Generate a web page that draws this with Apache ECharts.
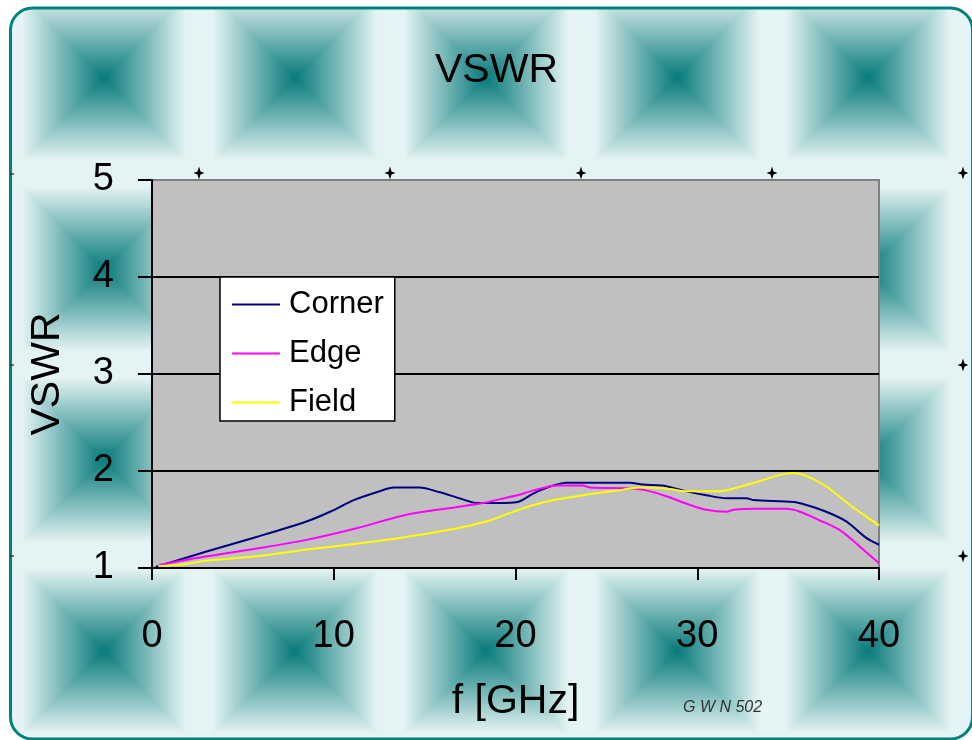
<!DOCTYPE html>
<html>
<head>
<meta charset="utf-8">
<script src="https://cdn.jsdelivr.net/npm/echarts@6/dist/echarts.min.js"></script>
<style>html,body{margin:0;padding:0;background:#fff}#c{width:972px;height:740px}</style>
</head>
<body>
<div id="c"></div>
<script>
// ---- data ----
var xTicks = [0, 10, 20, 30, 40];
var yTicks = [1, 2, 3, 4, 5];
var seriesNames = ['Corner', 'Edge', 'Field'];

var cornerF = [0.2, 3.0, 5.75, 8.5, 9.8, 11.1, 12.5, 13.3, 14.7, 15.85, 16.9, 17.9, 19.1, 20.1, 21.0, 21.9, 22.8, 26.3, 27.0, 28.1, 29.4, 30.5, 31.6, 32.7, 33.1, 35.3, 36.0, 37.1, 38.2, 39.3, 40.0];
var cornerV = [1.01, 1.17, 1.32, 1.48, 1.58, 1.70, 1.79, 1.83, 1.83, 1.78, 1.72, 1.67, 1.67, 1.68, 1.77, 1.84, 1.88, 1.88, 1.86, 1.85, 1.79, 1.75, 1.72, 1.72, 1.70, 1.68, 1.65, 1.58, 1.48, 1.31, 1.24];

var edgeF = [0.4, 3.0, 5.75, 8.5, 11.25, 14.0, 16.8, 18.2, 19.15, 20.1, 21.0, 22.3, 23.7, 24.1, 26.5, 27.2, 28.3, 29.6, 30.5, 31.6, 32.0, 33.1, 34.9, 35.65, 36.75, 37.85, 38.95, 40.0];
var edgeV = [1.03, 1.12, 1.20, 1.29, 1.41, 1.55, 1.63, 1.67, 1.71, 1.75, 1.80, 1.85, 1.85, 1.83, 1.82, 1.80, 1.74, 1.65, 1.60, 1.58, 1.60, 1.61, 1.61, 1.58, 1.49, 1.39, 1.22, 1.05];

var fieldF = [0.35, 1.36, 3.0, 5.75, 8.5, 11.25, 14.0, 16.8, 18.6, 19.15, 20.2, 21.0, 22.1, 23.7, 25.6, 26.85, 28.3, 29.4, 31.2, 32.4, 33.5, 34.55, 35.3, 36.0, 37.1, 38.4, 39.3, 40.0];
var fieldV = [1.02, 1.03, 1.075, 1.12, 1.19, 1.25, 1.32, 1.41, 1.49, 1.53, 1.60, 1.65, 1.70, 1.75, 1.80, 1.83, 1.82, 1.79, 1.79, 1.84, 1.90, 1.96, 1.98, 1.95, 1.84, 1.65, 1.53, 1.44];

function pairs(xs, ys) { return xs.map(function (x, i) { return [x, ys[i]]; }); }

// ---- decorative tiled background (pyramid gradient tiles) ----
var W = 972, H = 740;
function makeBackground() {
  var a = document.createElement('canvas'); a.width = W; a.height = H;
  var ctx = a.getContext('2d');
  var img = ctx.createImageData(W, H);
  var P = 191, cx0 = 103.5, cy0 = 77.5;
  var dark = [8, 122, 122], light = [228, 243, 243];
  for (var y = 0; y < H; y++) {
    var dy = ((y - cy0) % P + P) % P; if (dy > P / 2) dy = P - dy;
    for (var x = 0; x < W; x++) {
      var dx = ((x - cx0) % P + P) % P; if (dx > P / 2) dx = P - dx;
      var d = Math.max(dx, dy);
      var t = Math.min(1, d / 82);
      var k = (y * W + x) * 4;
      img.data[k] = dark[0] + (light[0] - dark[0]) * t;
      img.data[k + 1] = dark[1] + (light[1] - dark[1]) * t;
      img.data[k + 2] = dark[2] + (light[2] - dark[2]) * t;
      img.data[k + 3] = 255;
    }
  }
  ctx.putImageData(img, 0, 0);
  var b = document.createElement('canvas'); b.width = W; b.height = H;
  var g = b.getContext('2d');
  g.fillStyle = '#ffffff'; g.fillRect(0, 0, W, H);
  var rx = 10.5, ry = 8, rw = 962, rh = 731, r = 22;
  g.beginPath();
  g.moveTo(rx + r, ry);
  g.lineTo(rx + rw - r, ry); g.arcTo(rx + rw, ry, rx + rw, ry + r, r);
  g.lineTo(rx + rw, ry + rh - r); g.arcTo(rx + rw, ry + rh, rx + rw - r, ry + rh, r);
  g.lineTo(rx + r, ry + rh); g.arcTo(rx, ry + rh, rx, ry + rh - r, r);
  g.lineTo(rx, ry + r); g.arcTo(rx, ry, rx + r, ry, r);
  g.closePath();
  g.save(); g.clip(); g.drawImage(a, 0, 0); g.restore();
  return b;
}
var bg = makeBackground();

function star(cx, cy) {
  return {
    type: 'polygon', z: -5, silent: true,
    shape: { points: [[cx, cy - 6.5], [cx + 1.5, cy - 1.5], [cx + 5.5, cy], [cx + 1.5, cy + 1.5], [cx, cy + 6.5], [cx - 1.5, cy + 1.5], [cx - 5.5, cy], [cx - 1.5, cy - 1.5]] },
    style: { fill: '#000' }
  };
}
var deco = [
  { type: 'image', z: -10, silent: true, style: { image: bg, x: 0, y: 0, width: W, height: H } },
  { type: 'rect', z: -6, silent: true, shape: { x: 10.5, y: 8, width: 962, height: 731, r: 22 }, style: { fill: null, stroke: '#008080', lineWidth: 3 } },
  star(199, 173), star(390, 173), star(581, 173), star(772, 173), star(963, 173), star(963, 365), star(963, 556),
  { type: 'line', z: -5, silent: true, shape: { x1: 10, y1: 174, x2: 14, y2: 174 }, style: { stroke: '#000', lineWidth: 1 } },
  { type: 'line', z: -5, silent: true, shape: { x1: 10, y1: 365, x2: 14, y2: 365 }, style: { stroke: '#000', lineWidth: 1 } },
  { type: 'line', z: -5, silent: true, shape: { x1: 10, y1: 556, x2: 14, y2: 556 }, style: { stroke: '#000', lineWidth: 1 } },
  { type: 'text', z: 5, style: { text: 'G W N 502', x: 683, y: 708, verticalAlign: 'middle', fill: '#333', font: 'italic 16px "Liberation Sans"' } }
];

var chart = echarts.init(document.getElementById('c'), null, { renderer: 'canvas' });
var FONT = 'Liberation Sans';
var colors = ['#000080', '#ff00ff', '#ffff00'];
chart.setOption({
  animation: false,
  backgroundColor: '#ffffff',
  textStyle: { fontFamily: FONT },
  title: {
    text: 'VSWR', left: 430, top: 45,
    textStyle: { fontFamily: FONT, fontSize: 41, fontWeight: 'normal', color: '#000' }
  },
  graphic: deco,
  legend: {
    data: seriesNames, orient: 'vertical', left: 220, top: 277,
    icon: 'rect', itemWidth: 48, itemHeight: 2, itemGap: 18,
    padding: [12, 11, 3, 12],
    backgroundColor: '#ffffff', borderColor: '#000', borderWidth: 1.5,
    textStyle: { fontFamily: FONT, fontSize: 31, color: '#000', padding: [0, 0, 0, 4] }
  },
  grid: {
    left: 152, right: 93, top: 180, bottom: 172, show: true,
    backgroundColor: '#c0c0c0', borderColor: '#808080', borderWidth: 2
  },
  xAxis: {
    type: 'value', min: xTicks[0], max: xTicks[xTicks.length - 1], interval: 10,
    name: 'f [GHz]', nameLocation: 'middle', nameGap: 113,
    nameTextStyle: { fontFamily: FONT, fontSize: 41, color: '#000' },
    axisLine: { show: true, lineStyle: { color: '#000', width: 2 } },
    axisTick: { show: true, length: 12, lineStyle: { color: '#000', width: 2 } },
    axisLabel: { fontFamily: FONT, fontSize: 38, color: '#000', margin: 50 },
    splitLine: { show: false }
  },
  yAxis: {
    type: 'value', min: yTicks[0], max: yTicks[yTicks.length - 1], interval: 1,
    name: 'VSWR', nameLocation: 'middle', nameGap: 84,
    nameTextStyle: { fontFamily: FONT, fontSize: 41, color: '#000' },
    axisLine: { show: true, lineStyle: { color: '#000', width: 2 } },
    axisTick: { show: true, length: 14, lineStyle: { color: '#000', width: 2 } },
    axisLabel: { fontFamily: FONT, fontSize: 38, color: '#000', margin: 38 },
    splitLine: { show: true, lineStyle: { color: ['#000', '#000', '#000', '#000', '#808080'], width: 2 } }
  },
  series: [
    { name: seriesNames[0], type: 'line', data: pairs(cornerF, cornerV), smooth: 0.3, showSymbol: false, lineStyle: { color: colors[0], width: 2 }, itemStyle: { color: colors[0] } },
    { name: seriesNames[1], type: 'line', data: pairs(edgeF, edgeV), smooth: 0.3, showSymbol: false, lineStyle: { color: colors[1], width: 2 }, itemStyle: { color: colors[1] } },
    { name: seriesNames[2], type: 'line', data: pairs(fieldF, fieldV), smooth: 0.3, showSymbol: false, lineStyle: { color: colors[2], width: 2 }, itemStyle: { color: colors[2] } }
  ]
});
</script>
</body>
</html>
